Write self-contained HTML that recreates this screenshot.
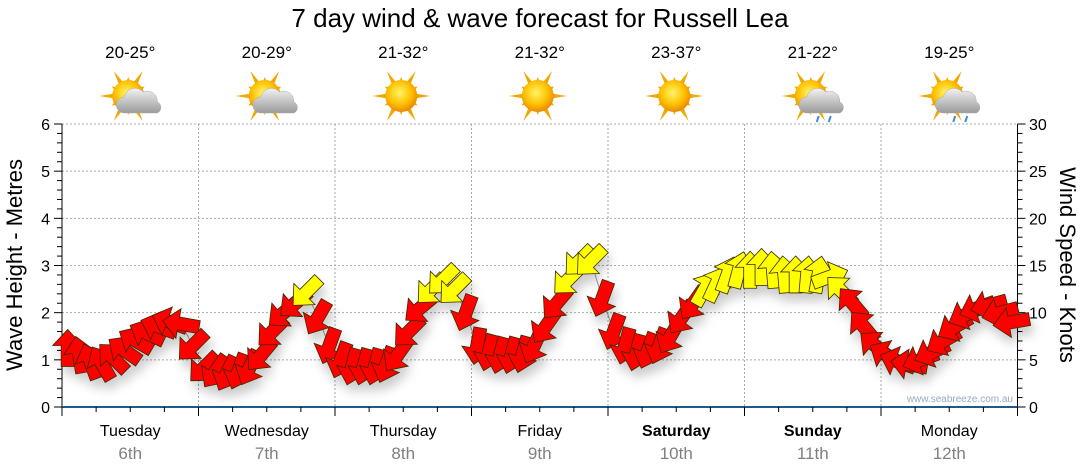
<!DOCTYPE html>
<html><head><meta charset="utf-8"><style>
body{margin:0;background:#fff;}
svg{display:block;font-family:"Liberation Sans","DejaVu Sans",sans-serif;}
</style></head><body>
<svg id="c" width="1080" height="475" viewBox="0 0 1080 475">
<defs>
<filter id="sh" x="-50%" y="-50%" width="200%" height="200%"><feDropShadow dx="3" dy="8" stdDeviation="5" flood-color="#000" flood-opacity="0.2"/></filter>
<radialGradient id="sun" cx="0.45" cy="0.4" r="0.6"><stop offset="0" stop-color="#fff36a"/><stop offset="0.6" stop-color="#ffc200"/><stop offset="1" stop-color="#e88a00"/></radialGradient>
<linearGradient id="cl" x1="0" y1="0" x2="0" y2="1"><stop offset="0" stop-color="#f2f2f2"/><stop offset="1" stop-color="#9a9a9a"/></linearGradient>
</defs>
<text x="540" y="27" text-anchor="middle" font-size="26" fill="#000">7 day wind &amp; wave forecast for Russell Lea</text>
<g id="grid"></g>
<g id="axes"></g>
<g id="wx"></g>
<g id="marks"></g>
<text x="1013" y="402" text-anchor="end" font-size="10" fill="#9aaac0">www.seabreeze.com.au</text>
<text transform="translate(22,265) rotate(-90)" text-anchor="middle" font-size="22" fill="#000">Wave Height - Metres</text>
<text transform="translate(1060,265) rotate(90)" text-anchor="middle" font-size="22" fill="#000">Wind Speed - Knots</text>
</svg>
<script>
const days=["Tuesday","Wednesday","Thursday","Friday","Saturday","Sunday","Monday"];
const dates=["6th","7th","8th","9th","10th","11th","12th"];
const boldDays=[false,false,false,false,true,true,false];
const temps=["20-25°","20-29°","21-32°","21-32°","23-37°","21-22°","19-25°"];
const icons=["cloud","cloud","sun","sun","sun","rain","rain"];
const leftTicks=[0,1,2,3,4,5,6];
const rightTicks=[0,5,10,15,20,25,30];
const hours=[];for(let i=0;i<84;i++)hours.push(i*2+1);
const speeds=[6.2,5.5,4.8,4.6,5.2,6,7,7.8,8.5,9,8.8,6.5,
4.2,3.8,3.6,3.8,4.2,5.5,8,10,11,12.2,9.5,6.5,
5,4.3,4.3,4.3,4.5,5.5,8,10.5,12.5,13.5,12.5,10,
6.5,5.8,5.5,5.5,5.6,6.5,8.5,11,13.5,15.5,15.5,11.5,
8,6.5,5.8,6,6.5,7.5,9.5,11,12.5,13,14,14.5,
14.5,14.8,14.5,14,14,14,14,13.8,12.3,11,8.5,6.5,
5.5,4.8,4.5,5,5.8,7,8.5,9.8,10.5,10.8,10,9];
const dirs=[0,350,340,330,315,305,300,295,290,290,280,225,
225,215,205,200,205,220,225,230,230,225,210,200,
200,195,195,195,200,215,225,230,225,225,225,200,
190,195,195,195,195,205,215,220,225,225,225,200,
200,195,195,200,200,210,215,215,30,25,20,15,
0,0,355,355,0,5,10,70,315,320,320,310,
300,290,280,250,245,240,240,245,250,255,255,260];

const NS="http://www.w3.org/2000/svg";
const X0=62,X1=1017.5,Y0=407,Y1=124;
const xH=h=>X0+h*(X1-X0)/168;
const yM=m=>Y0-m*(Y0-Y1)/6;
const yK=k=>Y0-k*(Y0-Y1)/30;
function mk(t,a,p){const e=document.createElementNS(NS,t);for(const k in a)e.setAttribute(k,a[k]);(p||document.getElementById('c')).appendChild(e);return e;}
const grid=document.getElementById('grid'),axes=document.getElementById('axes');
for(let m=1;m<=6;m++){const l=mk('line',{x1:X0,x2:X1,y1:yM(m),y2:yM(m),stroke:'#aaa','stroke-dasharray':'2,2'},grid);

}
for(let d=1;d<7;d++){const x=xH(d*24);const l=mk('line',{x1:x,x2:x,y1:Y1,y2:Y0,stroke:'#aaa','stroke-dasharray':'2,2'},grid);

}
mk('line',{x1:X0,x2:X0,y1:Y1,y2:Y0,stroke:'#000'},axes);
mk('line',{x1:X1,x2:X1,y1:Y1,y2:Y0,stroke:'#000'},axes);
mk('line',{x1:X0,x2:X1,y1:Y0,y2:Y0,stroke:'#1b5a8a','stroke-width':2},axes);
for(let k=0;k<=30;k++){const y=yK(k);mk('line',{x1:X1,x2:X1+(k%5?5:8),y1:y,y2:y,stroke:'#000'},axes);
mk('line',{x1:X0,x2:X0-(k%5?5:8),y1:y,y2:y,stroke:'#000'},axes);}
leftTicks.forEach(v=>{const t=mk('text',{x:50,y:yM(v)+6,'text-anchor':'end','font-size':16,fill:'#000'},axes);t.textContent=v;

});
rightTicks.forEach(v=>{const t=mk('text',{x:1029,y:yK(v)+6,'font-size':16,fill:'#000'},axes);t.textContent=v;

});
for(let h=0;h<=168;h+=6){const x=xH(h);mk('line',{x1:x,x2:x,y1:Y0,y2:Y0+(h%24?5:9),stroke:'#000'},axes);}
const wx=document.getElementById('wx');
function icon(cx,cy,type,g){
 for(let a=0;a<360;a+=30){const r=a%60?19:29;const rad=a*Math.PI/180;
  mk('polygon',{points:`${cx+Math.cos(rad)*r},${cy+Math.sin(rad)*r} ${cx+Math.cos(rad+0.2)*13},${cy+Math.sin(rad+0.2)*13} ${cx+Math.cos(rad-0.2)*13},${cy+Math.sin(rad-0.2)*13}`,fill:'#f0a800'},g);}
 mk('circle',{cx:cx,cy:cy,r:16,fill:'url(#sun)'},g);
 if(type==='cloud'||type==='rain'){const ox=cx+10,oy=cy+4;
  mk('path',{d:`M${ox-14},${oy+13} a8,8 0 0 1 0,-16 a11,11 0 0 1 19,-5 a10,10 0 0 1 14,10 a6,6 0 0 1 0,11 z`,fill:'url(#cl)',stroke:'#aaa','stroke-width':0.5},g);
  if(type==='rain'){mk('path',{d:`M${ox-2},${oy+16} l-2,6`,stroke:'#3a8ed8','stroke-width':2},g);mk('path',{d:`M${ox+10},${oy+16} l-2,6`,stroke:'#3a8ed8','stroke-width':2},g);}}
}
days.forEach((d,i)=>{const cx=xH(i*24+12);
 const t1=mk('text',{x:cx,y:58,'text-anchor':'middle','font-size':17,fill:'#000'},wx);t1.textContent=temps[i];
 
 
 const g=mk('g',{},wx);
 
 
 icon(cx-2,96,icons[i],g);
 const t2=mk('text',{x:cx,y:436,'text-anchor':'middle','font-size':16,fill:'#000','font-weight':boldDays[i]?'bold':'normal'},axes);t2.textContent=d;
 
 
 const t3=mk('text',{x:cx,y:459,'text-anchor':'middle','font-size':17,fill:'#808080'},axes);t3.textContent=dates[i];
 
 
});
const marks=document.getElementById('marks');
let pts=hours.map((h,i)=>xH(h)+','+yK(speeds[i])).join(' ');
mk('polyline',{points:pts,fill:'none',stroke:'#999','stroke-width':1},marks);
const ag=mk('g',{filter:'url(#sh)'},marks);
hours.forEach((h,i)=>{
 const a=mk('path',{d:'M0,-19 L15,-3 L6.5,-3 L6.5,18 L-6.5,18 L-6.5,-3 L-15,-3 Z',transform:`translate(${xH(h)},${yK(speeds[i])}) rotate(${dirs[i]})`,fill:speeds[i]>=12?'#ffff00':'#ff0000',stroke:'#3a2a00','stroke-width':0.8,'stroke-linejoin':'miter'},ag);
 
 
});
</script>
</body></html>
